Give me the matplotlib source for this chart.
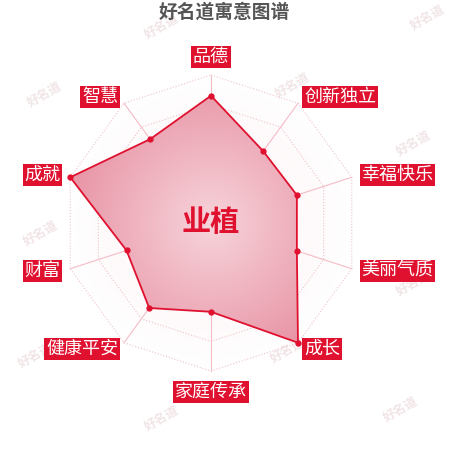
import numpy as np
import matplotlib.pyplot as plt
from matplotlib.patches import Polygon

plt.rcParams['font.family'] = ['Noto Sans CJK SC', 'DejaVu Sans']

title = '好名道寓意图谱'
name = '业植'
labels = ['品德', '创新独立', '幸福快乐', '美丽气质', '成长', '家庭传承', '健康平安', '财富', '成就', '智慧']
values = [86, 60, 61, 61, 100, 60, 71, 60, 100, 70]
max_value = 100

red = '#e0102f'
n = len(labels)
ang = np.arange(n) * 2 * np.pi / n
dx, dy = np.sin(ang), np.cos(ang)

fig = plt.figure(figsize=(4.5, 4.5), dpi=100)
ax = fig.add_axes([0, 0, 1, 1])
scale = 148
ax.set_xlim(-211 / scale, (450 - 211) / scale)
ax.set_ylim(-227 / scale, (450 - 227) / scale)
ax.axis('off')

# watermarks (behind everything)
marks = [(0.36, 0.94), (0.95, 0.96), (0.10, 0.79), (0.65, 0.81), (0.92, 0.68),
         (0.09, 0.48), (0.92, 0.37), (0.08, 0.21), (0.64, 0.22), (0.36, 0.07), (0.89, 0.09)]
for mx, my in marks:
    ax.text(mx, my, '好名道', rotation=30, fontsize=9, color='#e6cfd2', alpha=0.55,
            ha='center', va='center', weight='bold', transform=fig.transFigure, zorder=0.5)

# faint background inside the outer ring
gx, gy = np.meshgrid(np.linspace(-1, 1, 300), np.linspace(-1, 1, 300))
gr = np.sqrt(gx ** 2 + gy ** 2)
bg = np.ones((300, 300, 4))
bg[..., 0], bg[..., 1], bg[..., 2] = 0.93, 0.55, 0.62
bg[..., 3] = np.clip(0.14 * (1 - gr), 0, 1)
outer = Polygon(np.column_stack([dx, dy]), closed=True, fc='none', ec='none')
ax.add_patch(outer)
im0 = ax.imshow(bg, extent=[-1, 1, -1, 1], origin='lower', zorder=0)
im0.set_clip_path(outer)

# grid rings and spokes
for lv in [0.2, 0.4, 0.6, 0.8, 1.0]:
    ax.plot(np.append(dx, dx[0]) * lv, np.append(dy, dy[0]) * lv, ls=':', color='#eec3ca', lw=0.8, zorder=1)
for i in range(n):
    ax.plot([0, dx[i]], [0, dy[i]], color='#f4bcc6', lw=0.8, zorder=1)

# data polygon with radial gradient fill
r = np.array(values) / max_value
xs, ys = r * dx, r * dy
poly = Polygon(np.column_stack([xs, ys]), closed=True, fc='none', ec='none')
ax.add_patch(poly)
c0 = np.array([247, 212, 219]) / 255
c1 = np.array([232, 148, 165]) / 255
t = np.clip(gr, 0, 1)[..., None]
grad = c0 * (1 - t) + c1 * t
im = ax.imshow(grad, extent=[-1, 1, -1, 1], origin='lower', zorder=2)
im.set_clip_path(poly)
ax.plot(np.append(xs, xs[0]), np.append(ys, ys[0]), color=red, lw=1.3, zorder=3)
ax.plot(xs, ys, 'o', color=red, ms=3.5, zorder=4)

# labels
for i, lab in enumerate(labels):
    box = dict(boxstyle='square,pad=0.1', fc=red, ec='none')
    if abs(dx[i]) < 1e-6:
        ly = 1.12 if dy[i] > 0 else -1.14
        ax.text(0, ly, lab, ha='center', va='center', color='white', fontsize=13, bbox=box, zorder=5)
    else:
        ha = 'left' if dx[i] > 0 else 'right'
        ax.text(1.07 * dx[i], 1.05 * dy[i], lab, ha=ha, va='center', color='white', fontsize=13,
                bbox=box, zorder=5)

ax.text(0, 0.01, name, ha='center', va='center', color=red, fontsize=21, weight='bold', zorder=6)
fig.text(0.498, 1 - 12 / 450, title, ha='center', va='center', fontsize=13.5, weight='bold', color='#555555')

fig.savefig('out.png', dpi=100)
